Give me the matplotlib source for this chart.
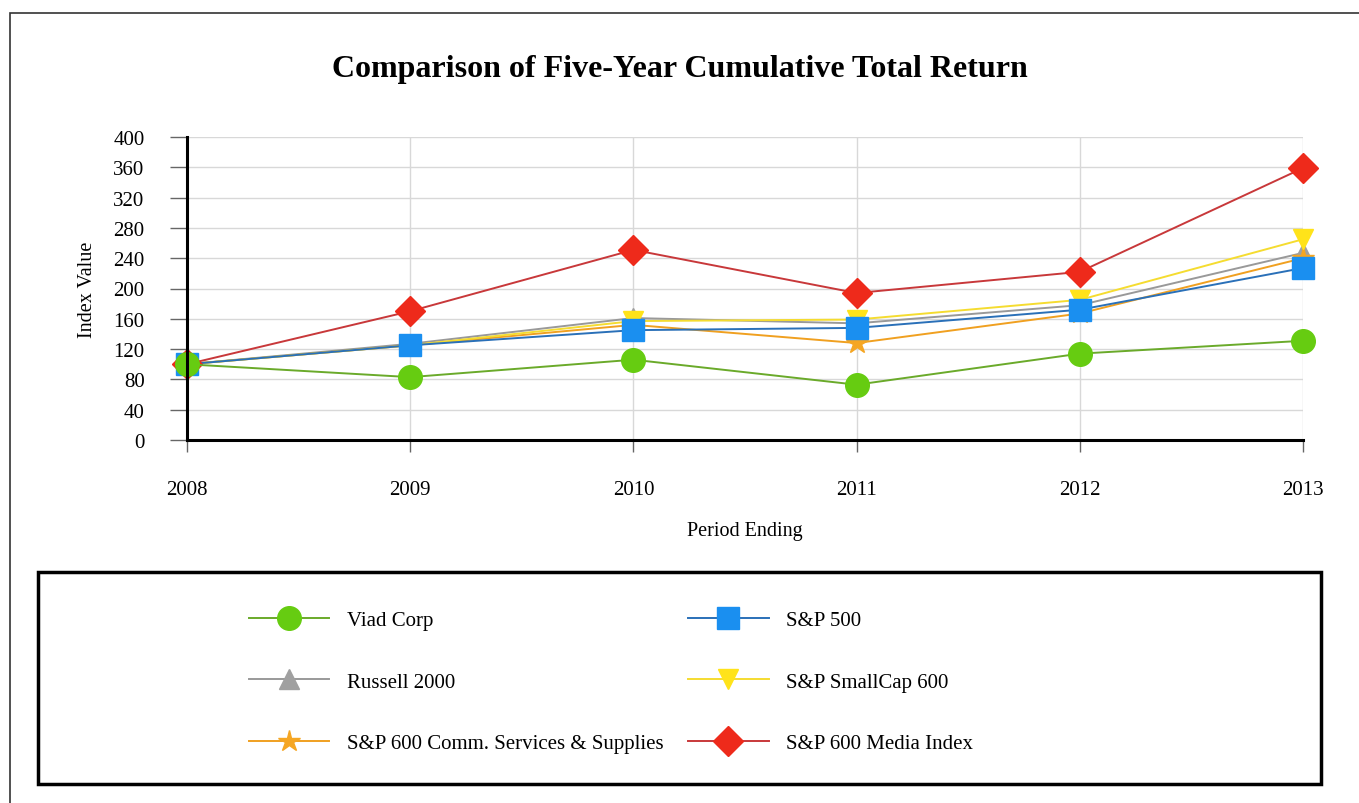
import matplotlib
matplotlib.use("Agg")
import matplotlib.pyplot as plt
from matplotlib.patches import Rectangle

# data
years = [2008, 2009, 2010, 2011, 2012, 2013]
viad = [100, 83, 106, 73, 114, 131]
sp500 = [100, 125, 145, 148, 172, 227]
russell = [100, 127, 161, 154, 178, 247]
smallcap = [100, 125, 157, 159, 185, 265]
comm = [100, 125, 152, 128, 167, 240]
media = [100, 170, 251, 194, 222, 359]
y_ticks = [0, 40, 80, 120, 160, 200, 240, 280, 320, 360, 400]

plt.rcParams['font.family'] = ['Liberation Serif', 'DejaVu Serif']

fig = plt.figure(figsize=(13.59, 8.04), dpi=100)
ax = fig.add_axes([187/1359, 1-441/804, (1303-187)/1359, (441-138)/804])

# outer border
fig.patches.append(Rectangle((10/1359, -0.01), 1.0, 1-14/804+0.01, transform=fig.transFigure,
                             fill=False, edgecolor='#333333', linewidth=1.2))

#series: (values, label, marker, line colour, marker colour, size)
series = [
    (russell, "Russell 2000", "^", "#999999", "#a0a0a0", 15),
    (comm, "S&P 600 Comm. Services & Supplies", "*", "#f0a020", "#f5a623", 16),
    (smallcap, "S&P SmallCap 600", "v", "#f5dc30", "#ffe31a", 15),
    (sp500, "S&P 500", "s", "#2a70b8", "#1a8ff0", 16),
    (media, "S&P 600 Media Index", "D", "#c8383a", "#ee2a1b", 15),
    (viad, "Viad Corp", "o", "#6aaa2a", "#66cc11", 17),
]
handles = {}
for vals, lab, mk, lc, mc, ms in series:
    h, = ax.plot(years, vals, color=lc, linewidth=1.4, marker=mk, markersize=ms,
                 markerfacecolor=mc, markeredgecolor=mc, clip_on=False, label=lab)
    handles[lab] = h

ax.set_xlim(2008, 2013)
ax.set_ylim(0, 400)
ax.set_yticks(y_ticks)
ax.set_xticks(years)
ax.grid(True, color='#d8d8d8', linewidth=1)
ax.set_axisbelow(True)
for s in ['top', 'right']:
    ax.spines[s].set_visible(False)
ax.spines['left'].set_linewidth(2.2)
ax.spines['bottom'].set_linewidth(2.2)
ax.tick_params(axis='y', labelsize=15, length=12, width=1, direction='out', pad=18.5, color='#666666')
ax.tick_params(axis='x', labelsize=15, length=8.6, width=1, direction='out', pad=20, color='#666666')
ax.set_ylabel("Index Value", fontsize=14.5, labelpad=12)
ax.set_xlabel("Period Ending", fontsize=14.5, labelpad=16)

fig.text(0.5, 1-69/804, "Comparison of Five-Year Cumulative Total Return",
         ha='center', va='center', fontsize=23, fontweight='bold')

# legend box
fig.patches.append(Rectangle((38/1359, 1-785/804), (1321-38)/1359, (785-573)/804,
                             transform=fig.transFigure, fill=False, edgecolor='black', linewidth=2.5))
order = ["Viad Corp", "Russell 2000", "S&P 600 Comm. Services & Supplies",
         "S&P 500", "S&P SmallCap 600", "S&P 600 Media Index"]
fig.legend([handles[k] for k in order], order, ncol=2, frameon=False,
           loc='upper left', bbox_to_anchor=(230/1359, 1-593/804),
           fontsize=15, handlelength=3.85, labelspacing=2.0, columnspacing=1.2,
           handletextpad=0.85, markerscale=1.0)

fig.savefig("out.png", dpi=100)
